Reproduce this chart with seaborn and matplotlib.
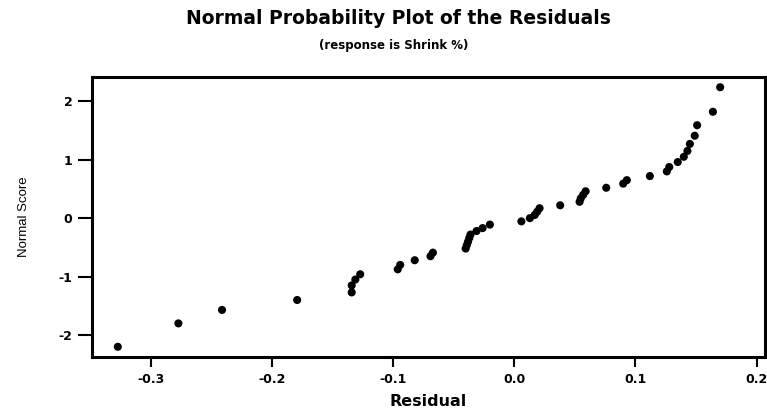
import matplotlib
matplotlib.use("Agg")
import matplotlib.pyplot as plt
import seaborn as sns
import pandas as pd

# Residuals (x) and their normal scores (y)
residual = [
    -0.327, -0.277, -0.241, -0.179,
    -0.134, -0.134, -0.131, -0.127,
    -0.096, -0.094, -0.082, -0.069, -0.067,
    -0.040, -0.039, -0.038, -0.037, -0.036,
    -0.031, -0.026, -0.020,
    0.006, 0.013, 0.017, 0.019, 0.021,
    0.038,
    0.054, 0.055, 0.057, 0.059,
    0.076,
    0.090, 0.093,
    0.112,
    0.126, 0.128,
    0.135,
    0.140, 0.143, 0.145,
    0.149, 0.151, 0.164, 0.170,
]
normal_score = [
    -2.20, -1.80, -1.57, -1.40,
    -1.27, -1.15, -1.05, -0.96,
    -0.875, -0.80, -0.72, -0.65, -0.59,
    -0.52, -0.46, -0.40, -0.34, -0.28,
    -0.22, -0.17, -0.11,
    -0.055, 0.0, 0.055, 0.11, 0.17,
    0.22,
    0.28, 0.34, 0.40, 0.46,
    0.52,
    0.59, 0.65,
    0.72,
    0.80, 0.875,
    0.96,
    1.05, 1.15, 1.27,
    1.41, 1.59, 1.82, 2.24,
]
x_ticks = [-0.3, -0.2, -0.1, 0.0, 0.1, 0.2]
x_tick_labels = ["-0.3", "-0.2", "-0.1", "0.0", "0.1", "0.2"]
y_ticks = [-2, -1, 0, 1, 2]
y_tick_labels = ["-2", "-1", "0", "1", "2"]

df = pd.DataFrame({"Residual": residual, "Normal Score": normal_score})

sns.set_style("ticks")
plt.rcParams["font.family"] = ["DejaVu Sans"]
plt.rcParams["text.color"] = "black"
plt.rcParams["axes.labelcolor"] = "black"
plt.rcParams["xtick.color"] = "black"
plt.rcParams["ytick.color"] = "black"

fig = plt.figure(figsize=(7.67, 4.13), dpi=100)
ax = fig.add_axes([0.1196, 0.1349, 0.8778, 0.6794])

sns.scatterplot(data=df, x="Residual", y="Normal Score", ax=ax,
                color="black", s=34, edgecolor="none", linewidth=0)

ax.set_xlim(-0.3485, 0.207)
ax.set_ylim(-2.38, 2.42)
ax.set_xticks(x_ticks)
ax.set_xticklabels(x_tick_labels, fontsize=9, fontweight="bold", color="black")
ax.set_yticks(y_ticks)
ax.set_yticklabels(y_tick_labels, fontsize=9, fontweight="bold", color="black")
ax.tick_params(axis="x", direction="out", length=7, width=1.5, pad=4, colors="black")
ax.tick_params(axis="y", direction="out", length=10, width=1.5, pad=4, colors="black")

for sp in ax.spines.values():
    sp.set_visible(True)
    sp.set_linewidth(2.2)
    sp.set_color("black")

ax.set_xlabel("Residual", fontsize=11.5, fontweight="bold", color="black")
ax.set_ylabel("Normal Score", fontsize=9.5, family=["Liberation Sans", "DejaVu Sans"],
              color="black")
ax.yaxis.set_label_coords(-0.091, 0.5)
ax.xaxis.set_label_coords(0.5, -0.132)

fig.text(0.519, 1 - 18 / 413, "Normal Probability Plot of the Residuals",
         ha="center", va="center", fontsize=13.5, fontweight="bold", color="black")
fig.text(0.513, 1 - 45 / 413, "(response is Shrink %)",
         ha="center", va="center", fontsize=8.5, fontweight="bold", color="black")

fig.savefig("out.png", dpi=100)
